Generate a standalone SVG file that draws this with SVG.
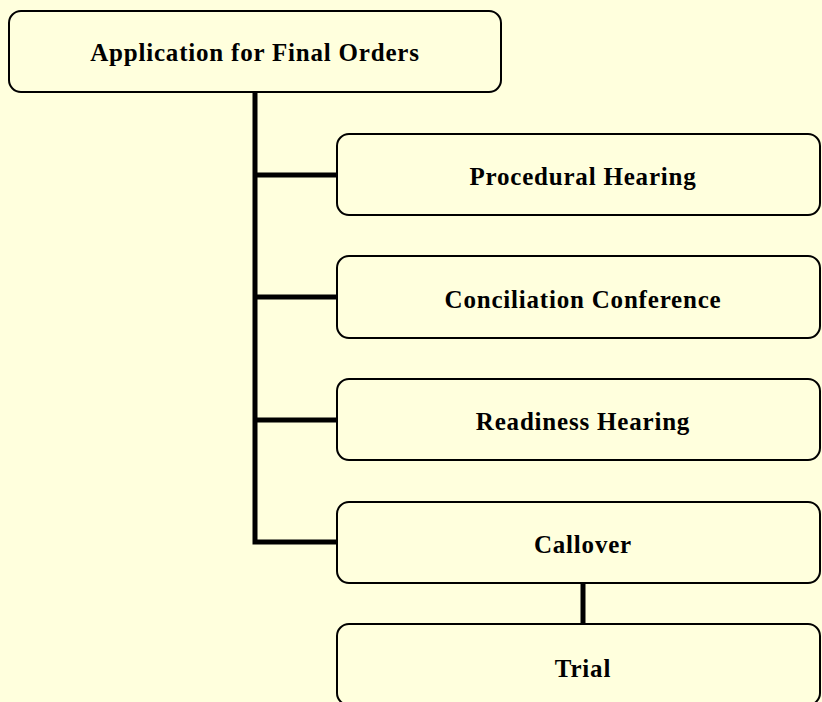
<svg xmlns="http://www.w3.org/2000/svg" width="822" height="702" viewBox="0 0 822 702">
<style>
.box{fill:#FFFFDD;stroke:#000;stroke-width:2}
.lbl{font-family:"Liberation Serif","Times New Roman",serif;font-weight:bold;font-size:25px;letter-spacing:0.8px;fill:#000;text-anchor:middle}
.conn{fill:none;stroke:#000;stroke-width:5}
</style>
<rect x="0" y="0" width="822" height="702" fill="#FFFFDD"/>
<g id="connectors">
<path class="conn" d="M255,92 V542 H337"/>
<path class="conn" d="M255,175 H337"/>
<path class="conn" d="M255,297 H337"/>
<path class="conn" d="M255,420 H337"/>
<path class="conn" d="M583,583 V624"/>
</g>
<g id="n-application">
<rect class="box" x="9" y="11" width="492" height="81" rx="12"/>
<text class="lbl" x="255" y="61">Application for Final Orders</text>
</g>
<g id="n-procedural">
<rect class="box" x="337" y="134" width="483" height="81" rx="12"/>
<text class="lbl" x="583" y="185">Procedural Hearing</text>
</g>
<g id="n-conciliation">
<rect class="box" x="337" y="256" width="483" height="82" rx="12"/>
<text class="lbl" x="583" y="308">Conciliation Conference</text>
</g>
<g id="n-readiness">
<rect class="box" x="337" y="379" width="483" height="81" rx="12"/>
<text class="lbl" x="583" y="430">Readiness Hearing</text>
</g>
<g id="n-callover">
<rect class="box" x="337" y="502" width="483" height="81" rx="12"/>
<text class="lbl" x="583" y="553">Callover</text>
</g>
<g id="n-trial">
<rect class="box" x="337" y="624" width="483" height="81" rx="12"/>
<text class="lbl" x="583" y="677">Trial</text>
</g>
</svg>
